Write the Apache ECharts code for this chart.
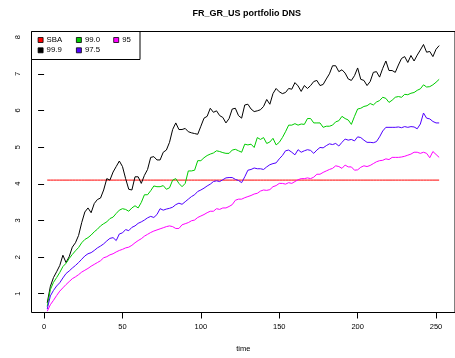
<!DOCTYPE html>
<html>
<head>
<meta charset="utf-8">
<script src="https://cdn.jsdelivr.net/npm/echarts@6/dist/echarts.min.js"></script>
<style>
html,body{margin:0;padding:0;background:#fff;}
#chart{width:455px;height:358px;}
</style>
</head>
<body>
<div id="chart"></div>
<script>
var time = [2,4,6,8,10,12,14,16,18,20,22,24,26,28,30,32,34,36,38,40,42,44,46,48,50,52,54,56,58,60,62,
64,66,68,70,72,74,76,78,80,82,84,86,88,90,92,94,96,98,100,102,104,106,108,110,112,114,116,118,120,122,124,
126,128,130,132,134,136,138,140,142,144,146,148,150,152,154,156,158,160,162,164,166,168,170,172,174,176,178,180,182,184,186,
188,190,192,194,196,198,200,202,204,206,208,210,212,214,216,218,220,222,224,226,228,230,232,234,236,238,240,242,244,246,248,250,252];

var sbaLevel = 4.1;

var q999 = [0.75,1.20,1.44,1.60,1.77,2.05,1.85,2.01,2.27,2.39,2.59,2.94,3.23,3.34,3.21,3.46,3.57,3.61,3.83,4.14,4.10,4.32,4.47,4.62,4.47,4.14,3.85,3.83,4.19,4.19,4.01,
4.23,4.39,4.72,4.74,4.65,4.65,4.86,4.92,5.13,5.48,5.66,5.48,5.48,5.51,5.42,5.39,5.37,5.35,5.57,5.79,5.84,6.06,5.95,5.99,5.86,5.81,5.66,5.78,6.04,6.06,5.86,
5.79,6.15,6.17,6.04,5.97,5.99,6.02,6.11,6.30,6.17,6.46,6.60,6.51,6.46,6.49,6.60,6.58,6.76,6.67,6.52,6.68,6.60,6.68,6.79,6.82,6.68,6.71,6.86,7.00,7.22,7.22,
7.06,7.11,7.02,6.86,6.82,6.95,7.16,6.85,6.82,6.68,6.79,7.04,7.06,6.91,7.15,7.35,7.09,7.09,7.04,7.24,7.42,7.47,7.31,7.50,7.35,7.51,7.65,7.80,7.59,7.61,7.47,7.67,7.77];

var q990 = [0.65,1.11,1.31,1.44,1.58,1.74,1.83,1.96,2.07,2.17,2.26,2.39,2.48,2.53,2.60,2.69,2.76,2.85,2.91,2.96,3.05,3.09,3.19,3.28,3.32,3.30,3.25,3.34,3.40,3.34,3.49,
3.70,3.70,3.81,3.94,3.92,3.92,3.95,3.85,3.89,4.10,4.14,4.01,3.92,4.01,4.35,4.35,4.37,4.63,4.63,4.71,4.77,4.81,4.84,4.90,4.88,4.85,4.83,4.83,4.92,4.94,4.90,
4.86,5.08,5.06,5.08,4.99,5.26,5.21,5.26,5.10,5.14,5.24,5.06,5.13,5.26,5.42,5.60,5.60,5.64,5.60,5.63,5.62,5.78,5.78,5.66,5.66,5.66,5.54,5.57,5.57,5.60,5.69,
5.72,5.84,5.78,5.74,5.62,5.84,6.04,6.06,6.11,6.13,6.19,6.15,6.23,6.27,6.36,6.33,6.22,6.28,6.36,6.38,6.36,6.44,6.43,6.47,6.49,6.55,6.59,6.70,6.64,6.65,6.70,6.77,6.85];

var q975 = [0.58,0.94,1.09,1.21,1.30,1.43,1.55,1.62,1.70,1.77,1.85,1.94,2.03,2.09,2.12,2.18,2.25,2.30,2.36,2.44,2.51,2.53,2.45,2.63,2.66,2.75,2.72,2.81,2.85,2.92,2.96,
3.01,3.07,3.11,3.08,3.16,3.32,3.28,3.31,3.33,3.36,3.43,3.47,3.44,3.51,3.58,3.65,3.70,3.79,3.83,3.88,3.94,3.99,4.06,4.08,4.06,4.11,4.16,4.17,4.17,4.12,4.09,
4.03,4.19,4.37,4.39,4.43,4.41,4.41,4.39,4.46,4.52,4.55,4.57,4.68,4.77,4.90,4.92,4.86,4.79,4.93,4.86,4.90,4.93,4.91,4.83,4.92,4.99,4.98,5.04,5.09,5.07,5.10,
5.03,5.13,5.22,5.19,5.21,5.17,5.28,5.26,5.19,5.13,5.13,5.12,5.15,5.28,5.44,5.54,5.54,5.54,5.54,5.55,5.53,5.56,5.54,5.56,5.55,5.50,5.63,5.93,5.79,5.77,5.70,5.66,5.66];

var q950 = [0.52,0.70,0.82,0.95,1.07,1.16,1.25,1.33,1.41,1.46,1.52,1.59,1.64,1.69,1.75,1.80,1.85,1.90,1.98,2.01,2.06,2.09,2.14,2.18,2.21,2.25,2.27,2.32,2.39,2.45,2.50,
2.57,2.62,2.67,2.71,2.74,2.77,2.80,2.83,2.85,2.83,2.78,2.78,2.88,2.91,2.94,2.99,3.01,3.08,3.12,3.16,3.21,3.25,3.25,3.32,3.30,3.34,3.34,3.38,3.43,3.55,3.58,
3.58,3.62,3.65,3.68,3.72,3.74,3.80,3.83,3.82,3.84,3.92,3.95,4.01,4.01,3.99,4.03,4.01,4.06,4.11,4.14,4.14,4.16,4.14,4.18,4.26,4.26,4.31,4.35,4.39,4.42,4.49,
4.47,4.42,4.51,4.46,4.46,4.37,4.38,4.45,4.49,4.47,4.50,4.55,4.60,4.63,4.64,4.68,4.66,4.72,4.72,4.72,4.73,4.75,4.78,4.81,4.86,4.86,4.83,4.86,4.83,4.71,4.88,4.80,4.72];

var xTicks = [0,50,100,150,200,250];
var yTicks = [1,2,3,4,5,6,7,8];
var seriesNames = ['SBA','99.9','99.0','97.5','95'];
var seriesColors = ['#ff0000','#000000','#00cd00','#5000ff','#ff00ff'];

function pairs(ys){ return time.map(function(t,i){ return [t, ys[i]]; }); }
var sbaData = time.map(function(t){ return [t, sbaLevel]; });
var allData = [sbaData, pairs(q999), pairs(q990), pairs(q975), pairs(q950)];

var FONT = '"Liberation Sans", Arial, Helvetica, sans-serif';

var series = seriesNames.map(function(n, i){
  return {
    name: n, type: 'line', data: allData[i], symbol: 'none', showSymbol: false,
    color: seriesColors[i],
    lineStyle: { width: 1, color: seriesColors[i] },
    itemStyle: { color: seriesColors[i], borderColor: '#000', borderWidth: 0.8 },
    z: 2 + i, animation: false
  };
});

function legendBlock(left, names){
  return {
    orient: 'vertical', left: left, top: 35, padding: 0, itemGap: 0.3,
    itemWidth: 5, itemHeight: 5, icon: 'rect', data: names,
    selectedMode: false, z: 20,
    itemStyle: { borderColor: '#000', borderWidth: 0.8 },
    textStyle: { fontSize: 7.8, color: '#000', fontFamily: FONT, lineHeight: 10, padding: [0,0,0,-1.5] }
  };
}

var chart = echarts.init(document.getElementById('chart'), null, {renderer: 'canvas'});
chart.setOption({
  animation: false,
  backgroundColor: '#fff',
  grid: { left: 31.5, top: 31.5, width: 430.5, height: 287, show: true, borderColor: '#000', borderWidth: 1, backgroundColor: 'transparent' },
  xAxis: {
    type: 'value', min: -8.03, max: 262.1,
    axisLine: { show: false },
    splitLine: { show: false },
    axisTick: { show: true, length: 6, lineStyle: { color: '#000', width: 1 }, customValues: xTicks },
    axisLabel: { customValues: xTicks, fontSize: 7.5, color: '#000', fontFamily: FONT, margin: 10 },
    name: 'time', nameLocation: 'middle', nameGap: 32.5,
    nameTextStyle: { fontSize: 7.5, color: '#000', fontFamily: FONT }
  },
  yAxis: {
    type: 'value', min: 0.487, max: 8.155,
    axisLine: { show: false },
    splitLine: { show: false },
    axisTick: { show: true, length: 6, lineStyle: { color: '#000', width: 1 }, customValues: yTicks },
    axisLabel: { customValues: yTicks, rotate: 90, fontSize: 7.5, color: '#000', fontFamily: FONT, margin: 9.5 }
  },
  legend: [
    legendBlock(37.7, ['SBA','99.9']),
    legendBlock(76, ['99.0','97.5']),
    legendBlock(113.3, ['95'])
  ],
  graphic: [
    { type: 'rect', z: 10, shape: { x: 31.5, y: 31.5, width: 108.5, height: 28 }, style: { fill: '#fff', stroke: '#000', lineWidth: 1 } },
    { type: 'text', z: 10, x: 246.7, y: 13.3, style: { text: 'FR_GR_US portfolio DNS', font: 'bold 9px ' + FONT, fill: '#000', textAlign: 'center', textVerticalAlign: 'middle' } }
  ],
  series: series
});
</script>
</body>
</html>
